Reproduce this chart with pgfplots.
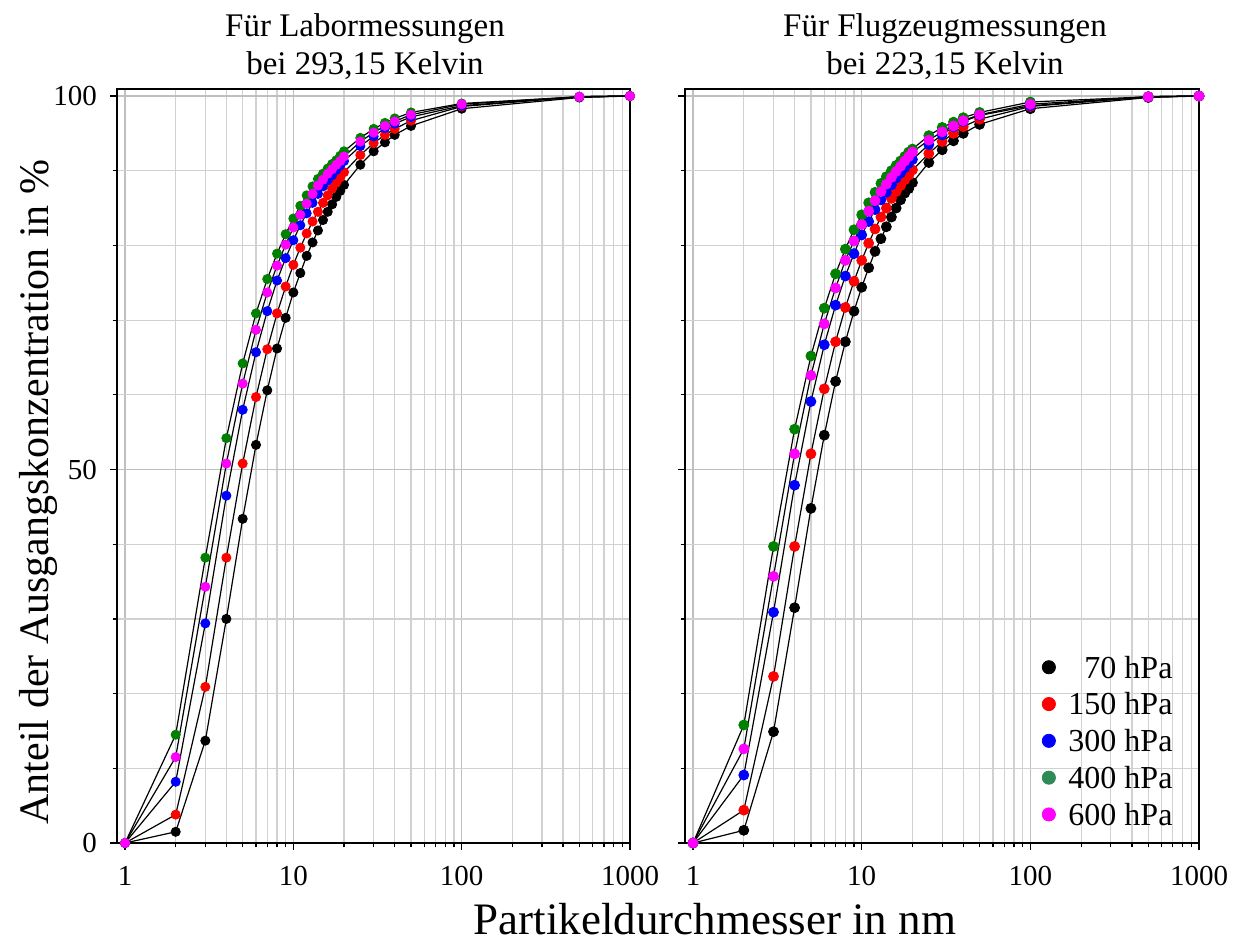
\documentclass[border=0pt]{standalone}
\usepackage{fontspec}
\setmainfont{Liberation Serif}
\usepackage{pgfplots}
\usepackage{pgfplotstable}
\pgfplotsset{compat=1.18}
\definecolor{pgreen}{RGB}{0,128,0}
\definecolor{lgreen}{RGB}{46,139,87}
\definecolor{pmag}{RGB}{255,0,255}
\definecolor{pred}{RGB}{255,0,0}
\definecolor{pblue}{RGB}{0,0,255}

% x = diameter (nm); columns = cumulative share (%) for 70,150,300,400,600 hPa
\pgfplotstableread{
d    p70   p150  p300  p400  p600
1    0     0     0     0     0
2    1.5   3.8   8.2   14.5  11.5
3    13.7  20.9  29.4  38.2  34.3
4    30.0  38.2  46.5  54.2  50.8
5    43.4  50.8  58.0  64.2  61.5
6    53.3  59.7  65.7  70.9  68.7
7    60.6  66.1  71.2  75.5  73.7
8    66.2  70.9  75.3  78.9  77.3
9    70.3  74.5  78.3  81.5  80.1
10   73.7  77.4  80.7  83.6  82.4
11   76.3  79.7  82.7  85.3  84.1
12   78.6  81.6  84.3  86.7  85.6
13   80.4  83.2  85.7  87.9  86.9
14   82.0  84.5  86.9  88.9  88.0
15   83.4  85.7  87.9  89.6  88.8
16   84.5  86.7  88.7  90.3  89.6
17   85.5  87.6  89.4  90.9  90.2
18   86.5  88.4  90.1  91.4  90.8
19   87.3  89.1  90.7  92.0  91.3
20   88.1  89.8  91.3  92.6  91.9
25   90.8  92.1  93.3  94.4  93.9
30   92.6  93.7  94.6  95.6  95.1
35   93.8  94.8  95.7  96.4  96.0
40   94.8  95.6  96.3  97.0  96.6
50   96.0  96.7  97.2  97.8  97.5
100  98.3  98.6  98.7  99.0  98.9
500  99.8  99.9  99.9  99.9  99.9
1000 100   100   100   100   100
}\labtable

\pgfplotstableread{
d    p70   p150  p300  p400  p600
1    0     0     0     0     0
2    1.7   4.4   9.1   15.8  12.6
3    14.9  22.3  30.9  39.7  35.7
4    31.5  39.7  47.9  55.4  52.1
5    44.8  52.1  59.1  65.2  62.6
6    54.6  60.8  66.7  71.6  69.5
7    61.8  67.1  72.0  76.2  74.3
8    67.1  71.7  75.9  79.5  78.0
9    71.2  75.2  78.9  82.1  80.6
10   74.4  78.0  81.4  84.1  82.8
11   77.0  80.3  83.2  85.7  84.6
12   79.2  82.2  84.8  87.1  86.0
13   80.9  83.8  86.1  88.3  87.2
14   82.5  85.0  87.1  89.2  88.2
15   83.8  86.3  88.1  90.0  89.1
16   85.0  87.2  89.0  90.7  89.9
17   86.1  88.0  89.7  91.3  90.6
18   87.0  88.8  90.4  91.9  91.3
19   87.6  89.4  91.0  92.5  91.9
20   88.4  90.1  91.5  92.9  92.5
25   91.1  92.3  93.5  94.7  94.1
30   92.8  93.9  94.8  95.8  95.2
35   94.0  95.0  95.9  96.5  96.0
40   95.0  95.9  96.6  97.1  96.7
50   96.2  96.9  97.4  97.8  97.5
100  98.3  98.6  98.7  99.2  98.9
500  99.8  99.9  99.9  99.9  99.9
1000 100   100   100   100   100
}\flugtable

\pgfplotsset{
  every axis/.append style={
    xmode=log, scale only axis,
    width=256.5pt, height=377pt,
    xmin=0.896, xmax=1000, ymin=0, ymax=100.94,
    xtick={1,10,100,1000}, xticklabels={1,10,100,1000},
    minor xtick={2,3,4,5,6,7,8,9,20,30,40,50,60,70,80,90,200,300,400,500,600,700,800,900},
    ytick={0,50,100},
    minor ytick={10,20,30,40,60,70,80,90},
    xmajorgrids, xminorgrids, ymajorgrids, yminorgrids,
    major grid style={draw=black!25, line width=0.7pt},
    minor grid style={draw=black!18, line width=0.6pt},
    tick pos=left, tick align=outside,
    major tick length=3.5pt, minor tick length=2.2pt,
    every tick/.style={black, line width=0.6pt},
    axis line style={black, line width=0.7pt},
    tick label style={font=\fontsize{14.5}{16}\selectfont},
    /pgf/number format/assume math mode=true,
    xticklabel shift=4.5pt,
    yticklabel shift=3pt,
    clip=false,
  },
}

\begin{document}
\begin{tikzpicture}
\useasboundingbox (0,0) rectangle (618.5pt,472pt);

% ---------- left panel ----------
\begin{axis}[at={(58.5pt,50.5pt)}, anchor=south west,
  yticklabels={0,50,100}]
  \addplot[forget plot, black, line width=0.6pt, mark=none] table[x=d, y=p70]  {\labtable};
  \addplot[forget plot, black, line width=0.6pt, mark=none] table[x=d, y=p150] {\labtable};
  \addplot[forget plot, black, line width=0.6pt, mark=none] table[x=d, y=p300] {\labtable};
  \addplot[forget plot, black, line width=0.6pt, mark=none] table[x=d, y=p400] {\labtable};
  \addplot[forget plot, black, line width=0.6pt, mark=none] table[x=d, y=p600] {\labtable};
  \addplot[forget plot, only marks, mark=*, mark size=2.3pt, black]  table[x=d, y=p70]  {\labtable};
  \addplot[forget plot, only marks, mark=*, mark size=2.3pt, pred]   table[x=d, y=p150] {\labtable};
  \addplot[forget plot, only marks, mark=*, mark size=2.3pt, pblue]  table[x=d, y=p300] {\labtable};
  \addplot[forget plot, only marks, mark=*, mark size=2.3pt, pgreen] table[x=d, y=p400] {\labtable};
  \addplot[forget plot, only marks, mark=*, mark size=2.3pt, pmag]   table[x=d, y=p600] {\labtable};
\end{axis}

% ---------- right panel ----------
\begin{axis}[at={(342.5pt,50.5pt)}, anchor=south west,
  width=257pt,
  yticklabels={},
  legend style={draw=none, fill=none, at={(rel axis cs:0.953,0.2506)}, anchor=north east,
    font=\fontsize{16}{18}\selectfont, row sep=5.6pt, inner sep=0pt,
    nodes={inner sep=1pt, text height=10.8pt, text depth=0pt},
    /tikz/every odd column/.append style={column sep=5.5pt}},
  legend cell align=right]
  \addplot[forget plot, black, line width=0.6pt, mark=none] table[x=d, y=p70]  {\flugtable};
  \addplot[forget plot, black, line width=0.6pt, mark=none] table[x=d, y=p150] {\flugtable};
  \addplot[forget plot, black, line width=0.6pt, mark=none] table[x=d, y=p300] {\flugtable};
  \addplot[forget plot, black, line width=0.6pt, mark=none] table[x=d, y=p400] {\flugtable};
  \addplot[forget plot, black, line width=0.6pt, mark=none] table[x=d, y=p600] {\flugtable};
  \addplot[forget plot, only marks, mark=*, mark size=2.5pt, black]  table[x=d, y=p70]  {\flugtable};
  \addplot[forget plot, only marks, mark=*, mark size=2.5pt, pred]   table[x=d, y=p150] {\flugtable};
  \addplot[forget plot, only marks, mark=*, mark size=2.5pt, pblue]  table[x=d, y=p300] {\flugtable};
  \addplot[forget plot, only marks, mark=*, mark size=2.5pt, pgreen] table[x=d, y=p400] {\flugtable};
  \addplot[forget plot, only marks, mark=*, mark size=2.5pt, pmag]   table[x=d, y=p600] {\flugtable};
  \addlegendimage{only marks, mark=*, mark size=3.3pt, black}
  \addlegendentry{70 hPa}
  \addlegendimage{only marks, mark=*, mark size=3.3pt, pred}
  \addlegendentry{150 hPa}
  \addlegendimage{only marks, mark=*, mark size=3.3pt, pblue}
  \addlegendentry{300 hPa}
  \addlegendimage{only marks, mark=*, mark size=3.3pt, lgreen}
  \addlegendentry{400 hPa}
  \addlegendimage{only marks, mark=*, mark size=3.3pt, pmag}
  \addlegendentry{600 hPa}
\end{axis}

% ---------- titles and axis labels ----------
\node[anchor=base, font=\fontsize{16.5}{19}\selectfont] at (182.5pt,453.5pt) {Für Labormessungen};
\node[anchor=base, font=\fontsize{16.5}{19}\selectfont] at (182.5pt,434.5pt) {bei 293,15 Kelvin};
\node[anchor=base, font=\fontsize{16.5}{19}\selectfont] at (472.5pt,453.5pt) {Für Flugzeugmessungen};
\node[anchor=base, font=\fontsize{16.5}{19}\selectfont] at (472.5pt,434.5pt) {bei 223,15 Kelvin};
\node[anchor=base, inner sep=0pt, font=\fontsize{22.5}{24}\selectfont] at (357.5pt,5pt) {Partikeldurchmesser in nm};
\node[rotate=90, anchor=center, font=\fontsize{21}{24}\selectfont] at (19pt,226pt) {Anteil der Ausgangskonzentration in \%};
\end{tikzpicture}
\end{document}
